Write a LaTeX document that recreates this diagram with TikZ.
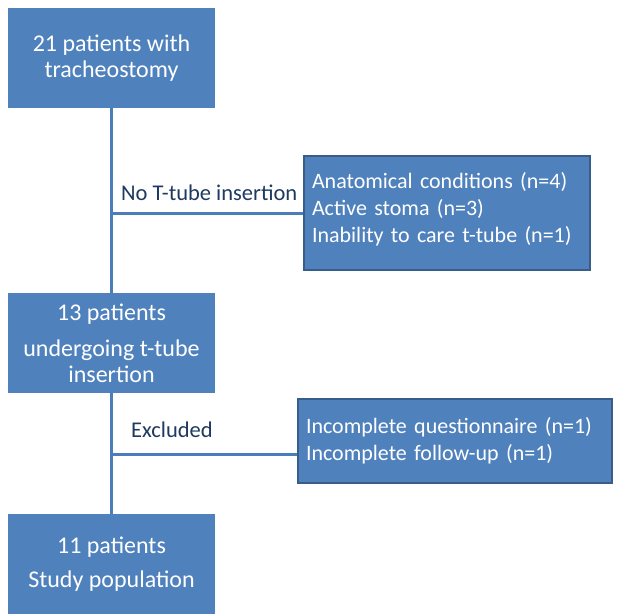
\documentclass[tikz,border=0pt]{standalone}
\usepackage{fontspec}
\setmainfont{Carlito}
\definecolor{boxblue}{HTML}{4F81BD}
\definecolor{boxedge}{HTML}{385D8A}
\definecolor{lineblue}{HTML}{4A7EBB}
\definecolor{labelcol}{HTML}{1F3A60}
\begin{document}
\begin{tikzpicture}[x=1pt,y=-1pt,
  mainbox/.style={fill=boxblue, draw=none, minimum width=207pt, minimum height=100pt,
    align=center, text=white, font=\fontsize{24}{25.5}\selectfont, inner sep=0pt},
  sidebox/.style={fill=boxblue, draw=boxedge, line width=2pt, align=left, text=white,
    font=\fontsize{22}{27}\selectfont, inner xsep=8pt, inner ysep=0pt},
  branchlabel/.style={text=labelcol, font=\fontsize{22.5}{27}\selectfont, inner sep=0pt},
  connector/.style={draw=lineblue, line width=3pt}]
\useasboundingbox (0,0) rectangle (624,614);
\fill[white] (0,0) rectangle (624,614);

\node[mainbox] (b1) at (111.5,58) {21 patients with\\tracheostomy};
\node[mainbox] (b2) at (111.5,343) {13 patients\\[11pt]undergoing t-tube\\insertion};
\node[mainbox] (b3) at (111.5,564) {11 patients\\[8pt]Study population};

\node[sidebox, text width=270pt, minimum height=114pt, text depth=65.5pt] (s1) at (447,213)
  {Anatomical conditions (n=4)\\Active stoma (n=3)\\Inability to care t-tube (n=1)};
\node[sidebox, text width=298pt, minimum height=84pt] (s2) at (455,441)
  {Incomplete questionnaire (n=1)\\Incomplete follow-up (n=1)};

\coordinate (j1) at (111.5,213);
\coordinate (j2) at (111.5,454);

\draw[connector] (b1) -- (b2);
\draw[connector] (b2) -- (b3);
\draw[connector] (j1) -- (s1.west);
\draw[connector] (j2) -- (j2 -| s2.west);

\node[branchlabel, anchor=base west] (l1) at (121,200) {No T-tube insertion};
\node[branchlabel, anchor=base west] (l2) at (131,437) {Excluded};
\end{tikzpicture}
\end{document}
